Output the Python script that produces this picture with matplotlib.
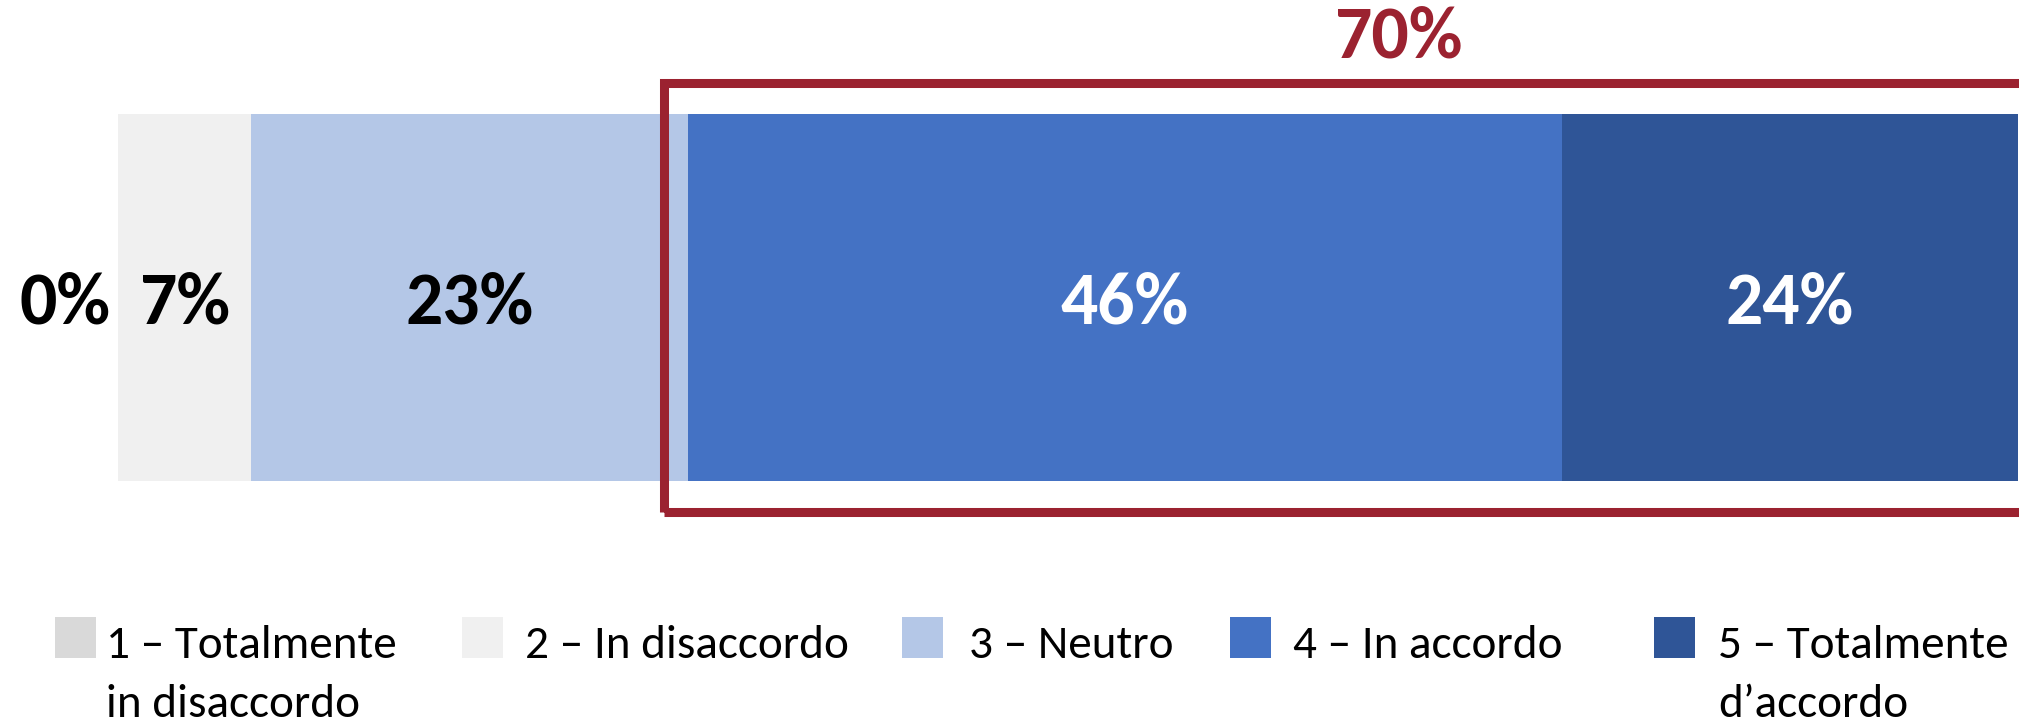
import matplotlib
matplotlib.use("Agg")
import matplotlib.pyplot as plt
from matplotlib import font_manager
from matplotlib.patches import Rectangle

# Response distribution (percent)
categories = ["1 – Totalmente\nin disaccordo", "2 – In disaccordo", "3 – Neutro",
              "4 – In accordo", "5 – Totalmente\nd’accordo"]
values = [0, 7, 23, 46, 24]
colors = ["#D9D9D9", "#F0F0F0", "#B4C7E7", "#4472C4", "#2F5597"]
label_colors = ["black", "black", "black", "white", "white"]
agree_idx = [3, 4]
accent = "#9B2230"

installed = {f.name for f in font_manager.fontManager.ttflist}
family = next(n for n in ["Carlito", "Liberation Sans Narrow", "Lato", "DejaVu Sans"] if n in installed)
plt.rcParams["font.family"] = [family, "DejaVu Sans"]

W, H = 2019, 724
fig = plt.figure(figsize=(W / 100, H / 100), dpi=100)

# Axes spanning the bar: x from 0 to 100 percent
x0, x1 = 118, 2018
ytop, ybot = 114, 481
ax = fig.add_axes([x0 / W, 1 - ybot / H, (x1 - x0) / W, (ybot - ytop) / H])
ax.set_xlim(0, 100)
ax.set_ylim(-0.5, 0.5)
ax.axis("off")

big = 53
base_y = -0.072
left = 0
for v, c, lc in zip(values, colors, label_colors):
    ax.barh(0, v, left=left, height=1.0, color=c, edgecolor="none")
    if v > 0:
        ax.text(left + v / 2, base_y, f"{v}%", ha="center", va="baseline",
                fontsize=big, fontweight="bold", color=lc)
    left += v
# zero-width category label sits just left of the bar
ax.text(-0.4, base_y, f"{values[0]}%", ha="right", va="baseline",
        fontsize=big, fontweight="bold", color=label_colors[0])

# Highlight box around the agreement categories
agree_start = sum(values[:agree_idx[0]])
agree_total = sum(values[i] for i in agree_idx)
box = Rectangle((agree_start - 1.24, -0.585), 100 - agree_start + 3, 1.17,
                fill=False, edgecolor=accent, linewidth=6.5, clip_on=False)
ax.add_patch(box)
ax.text(67.4, 0.655, f"{agree_total}%", ha="center", va="baseline",
        fontsize=big, fontweight="bold", color=accent, clip_on=False)

# Legend drawn along the bottom, one baseline per wrapped line
sq_x = [55, 462, 902, 1230, 1654]
txt_x = [106, 525, 969, 1293, 1718]
sq_top, sq_size = 617, 41
line_baselines = [658, 717]
for sx, tx, c, lab in zip(sq_x, txt_x, colors, categories):
    fig.patches.append(Rectangle((sx / W, 1 - (sq_top + sq_size) / H), sq_size / W, sq_size / H,
                                 transform=fig.transFigure, facecolor=c, edgecolor="none"))
    for line, by in zip(lab.split("\n"), line_baselines):
        fig.text(tx / W, 1 - by / H, line, ha="left", va="baseline", fontsize=34,
                 color="black")

fig.savefig("out.png", dpi=100)
